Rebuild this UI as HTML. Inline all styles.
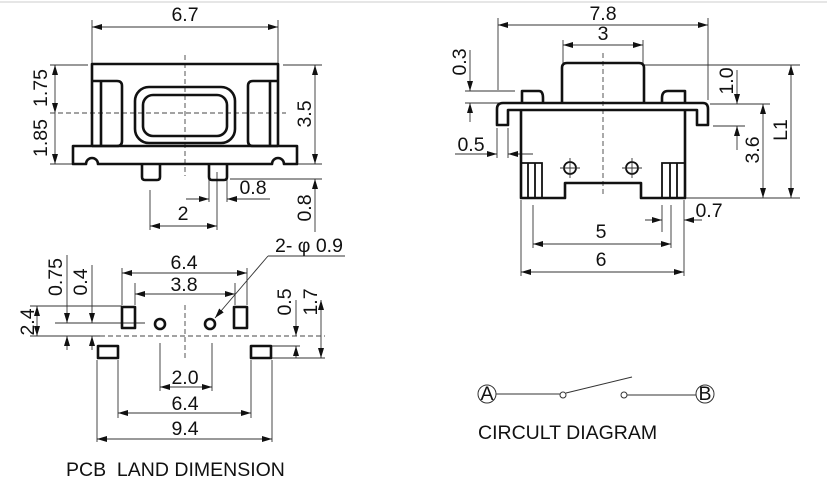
<!DOCTYPE html>
<html><head><meta charset="utf-8"><style>
html,body{margin:0;padding:0;background:#fff;}
svg{display:block;font-family:"Liberation Sans",sans-serif;}
.d{stroke:#333;stroke-width:0.9;fill:none}
.t{stroke:#111;stroke-width:2.6;fill:none;stroke-linejoin:round}
.m{stroke:#111;stroke-width:1.8;fill:none}
.c{stroke:#444;stroke-width:0.9;stroke-dasharray:5,3;fill:none}
text{font-size:19.5px;fill:#111}
</style></head><body>
<svg width="827" height="500" viewBox="0 0 827 500" xmlns="http://www.w3.org/2000/svg">
<defs>
<marker id="a" viewBox="0 0 10 6" refX="10" refY="3" markerWidth="10" markerHeight="6" orient="auto-start-reverse" markerUnits="userSpaceOnUse"><path d="M0,0 L10,3 L0,6 z" fill="#111"/></marker>
</defs>
<line x1="0" y1="2" x2="827" y2="2" stroke="#ccc" stroke-width="1"/>

<!-- ===== Top-left view ===== -->
<g class="d">
<line x1="92" y1="27" x2="278" y2="27" marker-start="url(#a)" marker-end="url(#a)"/>
<line x1="92" y1="20" x2="92" y2="63"/><line x1="278" y1="20" x2="278" y2="63"/>
<line x1="50" y1="65" x2="88" y2="65"/><line x1="50" y1="164" x2="72" y2="164"/>
<line x1="55" y1="65" x2="55" y2="113" marker-start="url(#a)" marker-end="url(#a)"/>
<line x1="55" y1="113" x2="55" y2="164" marker-end="url(#a)"/>
<line x1="283" y1="65" x2="322" y2="65"/><line x1="297" y1="164" x2="322" y2="164"/>
<line x1="315" y1="65" x2="315" y2="164" marker-start="url(#a)" marker-end="url(#a)"/>
<line x1="230" y1="179" x2="322" y2="179"/>
<line x1="315" y1="232" x2="315" y2="179" marker-end="url(#a)"/>
<line x1="209" y1="172" x2="209" y2="202"/><line x1="227" y1="172" x2="227" y2="202"/>
<line x1="186" y1="199" x2="209" y2="199" marker-end="url(#a)"/>
<line x1="270" y1="199" x2="227" y2="199" marker-end="url(#a)"/>
<line x1="150" y1="190" x2="150" y2="230"/><line x1="217" y1="172" x2="217" y2="230"/>
<line x1="150" y1="226" x2="217" y2="226" marker-start="url(#a)" marker-end="url(#a)"/>
</g>
<line class="c" x1="185" y1="55" x2="185" y2="176"/>
<line class="c" x1="50" y1="113" x2="286" y2="113"/>
<path class="t" d="M92,146 V64 H278 V146"/>
<path class="t" d="M73,146 H297 V164 H284 A6,6 0 0 0 272,164 H98 A6,6 0 0 0 86,164 H73 Z"/>
<path class="t" d="M92,81 H117 Q122,81 122,86 V141 Q122,146 117,146 H92"/>
<line class="t" x1="101" y1="81" x2="101" y2="146"/>
<path class="t" d="M278,81 H253 Q248,81 248,86 V141 Q248,146 253,146 H278"/>
<line class="t" x1="270" y1="81" x2="270" y2="146"/>
<rect class="t" x="135" y="87" width="100" height="56" rx="14"/>
<rect class="t" x="143" y="95" width="84" height="41" rx="10"/>
<path class="t" d="M142,164 V177 Q142,180 145,180 H157 Q160,180 160,177 V164"/>
<path class="t" d="M209,164 V177 Q209,180 212,180 H224 Q227,180 227,177 V164"/>
<text x="185" y="21" text-anchor="middle">6.7</text>
<text transform="translate(47,88) rotate(-90)" text-anchor="middle">1.75</text>
<text transform="translate(47,138) rotate(-90)" text-anchor="middle">1.85</text>
<text transform="translate(311,114) rotate(-90)" text-anchor="middle">3.5</text>
<text transform="translate(311,208) rotate(-90)" text-anchor="middle">0.8</text>
<text x="253" y="194" text-anchor="middle">0.8</text>
<text x="183" y="220" text-anchor="middle">2</text>

<!-- ===== Top-right view ===== -->
<g class="d">
<line x1="498" y1="25" x2="708" y2="25" marker-start="url(#a)" marker-end="url(#a)"/>
<line x1="498" y1="18" x2="498" y2="90"/><line x1="708" y1="18" x2="708" y2="100"/>
<line x1="563" y1="45" x2="643" y2="45" marker-start="url(#a)" marker-end="url(#a)"/>
<line x1="563" y1="40" x2="563" y2="63"/><line x1="643" y1="40" x2="643" y2="63"/>
<line x1="465" y1="91" x2="515" y2="91"/><line x1="465" y1="103" x2="500" y2="103"/>
<line x1="470" y1="50" x2="470" y2="91" marker-end="url(#a)"/>
<line x1="470" y1="122" x2="470" y2="103" marker-end="url(#a)"/>
<line x1="497" y1="128" x2="497" y2="158"/><line x1="508" y1="128" x2="508" y2="158"/>
<line x1="455" y1="154" x2="497" y2="154" marker-end="url(#a)"/>
<line x1="533" y1="154" x2="508" y2="154" marker-end="url(#a)"/>
<line x1="644" y1="65" x2="800" y2="65"/>
<line x1="710" y1="104" x2="770" y2="104"/>
<line x1="713" y1="126" x2="745" y2="126"/>
<line x1="737" y1="70" x2="737" y2="104" marker-end="url(#a)"/>
<line x1="737" y1="150" x2="737" y2="126" marker-end="url(#a)"/>
<line x1="763" y1="104" x2="763" y2="198" marker-start="url(#a)" marker-end="url(#a)"/>
<line x1="791" y1="65" x2="791" y2="198" marker-start="url(#a)" marker-end="url(#a)"/>
<line x1="685" y1="198" x2="800" y2="198"/>
<line x1="521" y1="200" x2="521" y2="276"/><line x1="533" y1="205" x2="533" y2="248"/>
<line x1="671" y1="205" x2="671" y2="248"/><line x1="684" y1="200" x2="684" y2="276"/>
<line x1="662" y1="205" x2="662" y2="232"/>
<line x1="645" y1="220" x2="662" y2="220" marker-end="url(#a)"/>
<line x1="702" y1="220" x2="684" y2="220" marker-end="url(#a)"/>
<line x1="533" y1="244" x2="671" y2="244" marker-start="url(#a)" marker-end="url(#a)"/>
<line x1="521" y1="272" x2="684" y2="272" marker-start="url(#a)" marker-end="url(#a)"/>
</g>
<line class="c" x1="603" y1="53" x2="603" y2="196"/>
<path class="t" d="M562,103 V68 Q562,63 567,63 H639 Q644,63 644,68 V103"/>
<path class="t" d="M522,103 V91 H539 Q543,91 543,98 V103"/>
<path class="t" d="M685,103 V91 H668 Q662,91 662,98 V103"/>
<path class="t" d="M508,125 H497 V109 Q497,103 503,103 H703 Q708,103 708,109 V125 H697 V110 H508 Z"/>
<path class="t" d="M521,110 V198 H565 V183 H641 V198 H685 V110"/>
<path class="m" d="M521,163 H542 V198 M528,163 V198 M535,163 V198"/>
<path class="m" d="M685,163 H662 V198 M670,163 V198 M677,163 V198"/>
<circle class="m" cx="570" cy="168" r="6"/><circle class="m" cx="632" cy="168" r="6"/>
<path class="d" d="M560,168 H580 M570,158 V178 M622,168 H642 M632,158 V178"/>
<text x="603" y="20" text-anchor="middle">7.8</text>
<text x="603" y="40" text-anchor="middle">3</text>
<text transform="translate(466,62) rotate(-90)" text-anchor="middle">0.3</text>
<text x="471" y="151" text-anchor="middle">0.5</text>
<text transform="translate(733,81) rotate(-90)" text-anchor="middle">1.0</text>
<text transform="translate(759,150) rotate(-90)" text-anchor="middle">3.6</text>
<text transform="translate(787,130) rotate(-90)" text-anchor="middle">L1</text>
<text x="709" y="217" text-anchor="middle">0.7</text>
<text x="601" y="238" text-anchor="middle">5</text>
<text x="601" y="266" text-anchor="middle">6</text>

<!-- ===== PCB land ===== -->
<g class="d">
<line x1="122" y1="273" x2="247" y2="273" marker-start="url(#a)" marker-end="url(#a)"/>
<line x1="122" y1="268" x2="122" y2="305"/><line x1="247" y1="268" x2="247" y2="305"/>
<line x1="135" y1="294" x2="235" y2="294" marker-start="url(#a)" marker-end="url(#a)"/>
<line x1="135" y1="283" x2="135" y2="305"/><line x1="235" y1="283" x2="235" y2="305"/>
<line x1="30" y1="306" x2="122" y2="306"/><line x1="30" y1="336" x2="100" y2="336"/>
<line x1="37" y1="306" x2="37" y2="336" marker-start="url(#a)" marker-end="url(#a)"/>
<line x1="55" y1="323" x2="145" y2="323"/>
<line x1="67" y1="255" x2="67" y2="323" marker-end="url(#a)"/>
<line x1="67" y1="350" x2="67" y2="336" marker-end="url(#a)"/>
<line x1="92" y1="265" x2="92" y2="323" marker-end="url(#a)"/>
<line x1="92" y1="350" x2="92" y2="336" marker-end="url(#a)"/>
<line x1="272" y1="346" x2="300" y2="346"/><line x1="272" y1="358" x2="325" y2="358"/>
<line x1="296" y1="300" x2="296" y2="336" marker-end="url(#a)"/>
<line x1="296" y1="358" x2="296" y2="346" marker-end="url(#a)"/>
<line x1="321" y1="300" x2="321" y2="358" marker-start="url(#a)" marker-end="url(#a)"/>
<line x1="160" y1="343" x2="160" y2="391"/><line x1="212" y1="343" x2="212" y2="391"/>
<line x1="160" y1="387" x2="212" y2="387" marker-start="url(#a)" marker-end="url(#a)"/>
<line x1="118" y1="360" x2="118" y2="418"/><line x1="251" y1="360" x2="251" y2="418"/>
<line x1="118" y1="413" x2="251" y2="413" marker-start="url(#a)" marker-end="url(#a)"/>
<line x1="97" y1="360" x2="97" y2="442"/><line x1="272" y1="360" x2="272" y2="442"/>
<line x1="97" y1="439" x2="272" y2="439" marker-start="url(#a)" marker-end="url(#a)"/>
<line x1="345" y1="256" x2="268" y2="256"/>
<line x1="268" y1="256" x2="215" y2="318" marker-end="url(#a)"/>
</g>
<line class="c" x1="100" y1="336" x2="325" y2="336"/>
<line class="c" x1="185" y1="305" x2="185" y2="360"/>
<rect class="t" x="122" y="307" width="13" height="21"/>
<rect class="t" x="234" y="307" width="13" height="21"/>
<rect class="t" x="98" y="346" width="20" height="12"/>
<rect class="t" x="251" y="346" width="20" height="12"/>
<circle class="t" cx="160" cy="324" r="5"/><circle class="t" cx="210" cy="324" r="5"/>
<text x="184" y="269" text-anchor="middle">6.4</text>
<text x="184" y="291" text-anchor="middle">3.8</text>
<text x="275" y="252" font-size="19">2- φ 0.9</text>
<text transform="translate(34,322) rotate(-90)" text-anchor="middle">2.4</text>
<text transform="translate(62,277) rotate(-90)" text-anchor="middle">0.75</text>
<text transform="translate(87,282) rotate(-90)" text-anchor="middle">0.4</text>
<text transform="translate(291,302) rotate(-90)" text-anchor="middle">0.5</text>
<text transform="translate(317,302) rotate(-90)" text-anchor="middle">1.7</text>
<text x="185" y="384" text-anchor="middle">2.0</text>
<text x="185" y="410" text-anchor="middle">6.4</text>
<text x="185" y="435" text-anchor="middle">9.4</text>
<text x="66" y="476" font-size="20" xml:space="preserve">PCB  LAND DIMENSION</text>

<!-- ===== Circuit ===== -->
<g stroke="#333" stroke-width="1" fill="none">
<circle cx="487" cy="394" r="9"/>
<line x1="496" y1="394" x2="560" y2="394"/>
<circle cx="563" cy="395" r="3"/>
<line x1="566" y1="393" x2="632" y2="377"/>
<circle cx="624" cy="395" r="3"/>
<line x1="627" y1="395" x2="696" y2="395"/>
<circle cx="705" cy="394" r="9"/>
</g>
<text x="487" y="400" text-anchor="middle" font-size="17">A</text>
<text x="705" y="400" text-anchor="middle" font-size="17">B</text>
<text x="478" y="439" font-size="20.5">CIRCULT DIAGRAM</text>
</svg>
</body></html>
